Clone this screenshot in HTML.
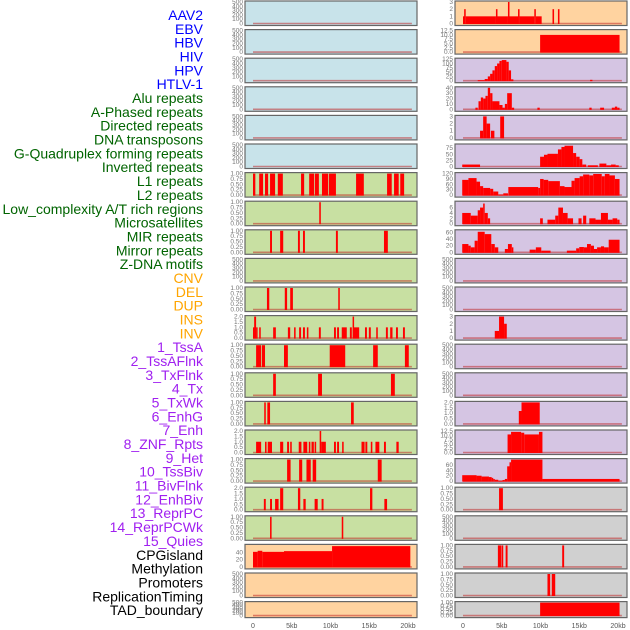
<!DOCTYPE html>
<html><head><meta charset="utf-8">
<style>
html,body{margin:0;padding:0;background:#fff;}
svg{display:block;font-family:"Liberation Sans",sans-serif;}
</style></head>
<body>
<svg id="chart" width="630" height="630" viewBox="0 0 630 630" xmlns="http://www.w3.org/2000/svg">
<g id="labels"></g>
<g id="panels"></g>
<g id="xaxes"></g>
</svg>
<script>
// ---- label data ----
const trackLabels = ["AAV2","EBV","HBV","HIV","HPV","HTLV-1","Alu repeats","A-Phased repeats","Directed repeats","DNA transposons","G-Quadruplex forming repeats","Inverted repeats","L1 repeats","L2 repeats","Low_complexity A/T rich regions","Microsatellites","MIR repeats","Mirror repeats","Z-DNA motifs","CNV","DEL","DUP","INS","INV","1_TssA","2_TssAFlnk","3_TxFlnk","4_Tx","5_TxWk","6_EnhG","7_Enh","8_ZNF_Rpts","9_Het","10_TssBiv","11_BivFlnk","12_EnhBiv","13_ReprPC","14_ReprPCWk","15_Quies","CPGisland","Methylation","Promoters","ReplicationTiming","TAD_boundary"];
const labelGroups = [6,13,5,15,5];
const labelColors = ["#0000ff","#006400","#ffa500","#a020f0","#000000"];

// ---- axis tick data ----
const xTickValues = [0,5,10,15,20];
const xTickLabels = ["0","5kb","10kb","15kb","20kb"];
const T500 = [0,100,200,300,400,500];
const T1 = [0,0.25,0.5,0.75,1];
const T2 = [0,0.5,1,1.5,2];
const T3 = [0,1,2,3];
const T12 = [0,2.5,5,7.5,10,12.5];

// ---- left column series: [startKb, endKb, value] ----
const leftL1 = [[0,0.3,1],[0.8,1.3,1],[1.55,1.95,1],[2.2,2.85,1],[3.2,3.85,1],[6.2,6.6,1],[7.25,7.9,1],[8.0,8.5,1],[8.9,9.7,1],[9.8,10.7,1],[13.3,14.3,1],[17.3,17.9,1],[18.2,18.8,1],[19.0,19.5,1]];
const leftLowCx = [[8.55,8.75,1]];
const leftMicro = [[2.2,2.45,1],[3.5,3.9,1],[5.8,6.05,1],[6.45,6.7,1],[10.7,10.95,1],[16.9,17.4,1]];
const leftDel = [[1.8,2.1,1],[4.1,4.4,1],[4.8,5.15,1],[11.0,11.2,1]];
const leftIns = [[0,0.15,1],[0.15,0.4,2],[0.4,0.5,1],[0.8,1.0,1],[2.6,2.95,1],[4.5,4.8,1],[5.3,5.5,1],[5.95,6.2,1],[6.45,6.7,1],[6.95,7.15,1],[8.5,8.75,1],[10.45,10.7,1],[10.85,11.1,1],[11.45,12.1,1],[12.5,12.75,1],[12.85,13.0,2],[13.0,13.7,1],[14.45,14.7,1],[14.95,15.2,1],[15.9,16.1,1],[17.15,17.4,1],[17.7,18.0,1],[18.45,18.7,1],[19.35,19.6,1]];
const leftTssA = [[0.4,1.05,1],[1.15,1.55,1],[4.0,4.5,1],[9.9,11.9,1],[15.5,16.1,1],[19.6,20.1,1]];
const leftTssAFlnk = [[2.6,2.95,1],[8.4,8.9,1],[17.8,18.3,1]];
const leftTxFlnk = [[1.45,1.65,1],[1.85,2.2,1],[12.65,13.0,1]];
const leftTx = [[0.4,1.05,1],[1.55,1.75,1],[1.9,2.45,1],[3.5,3.9,1],[4.4,4.65,1],[4.8,5.0,1],[5.9,6.25,1],[6.5,7.0,1],[7.2,7.4,1],[7.55,7.85,1],[7.95,8.15,1],[8.6,8.8,2],[8.8,9.4,1],[10.45,10.7,1],[10.85,11.1,1],[11.5,11.7,1],[14.0,14.4,1],[14.5,14.75,1],[15.2,15.4,1],[15.8,16.3,1],[16.9,17.15,1],[18.5,18.8,1]];
const leftTxWk = [[4.4,4.85,1],[5.95,6.35,1],[6.9,7.45,1],[7.7,8.15,1],[16.1,16.6,1]];
const leftEnhG = [[1.4,1.65,1],[2.2,2.45,1],[2.85,3.3,1],[3.5,3.9,2],[5.8,6.1,2],[6.5,6.8,1],[7.95,8.35,1],[8.85,9.1,1],[15.1,15.4,2],[16.95,17.3,1]];
const leftEnh = [[2.2,2.4,1],[11.45,11.65,1]];
const leftCpg = [[0,0.6,42],[0.6,1.2,45],[1.2,4,42],[4,10.2,44],[10.2,20.3,58]];
const emptySeries = [];

// ---- right column series ----
const rightAAV2 = [[0,0.15,1],[0.15,0.35,2],[0.35,4.25,1],[4.25,4.45,2],[4.45,5.8,1],[5.8,6.0,3],[6.0,7.1,1],[7.1,7.3,2],[7.3,9.2,1],[9.2,9.4,2],[9.4,10.15,1],[11.55,11.75,2],[12.25,12.45,2]];
const rightEBV = [[9.95,20.2,10]];
const rightHIV = [[1.9,2.8,3],[2.8,3.2,10],[3.2,3.5,25],[3.5,3.8,40],[3.8,4.1,60],[4.1,4.4,85],[4.4,4.7,100],[4.7,5.0,115],[5.0,5.6,120],[5.6,5.9,110],[5.9,6.2,60],[6.2,6.5,8],[16.4,16.7,5]];
const rightHPV = [[1.6,1.9,3],[2.0,2.3,15],[2.3,2.6,22],[2.6,2.9,20],[2.9,3.2,25],[3.2,3.5,40],[3.5,3.8,30],[3.8,4.7,15],[4.7,5.1,8],[5.1,5.4,3],[5.4,5.7,10],[5.7,6.3,30],[6.3,6.6,3],[9.6,9.9,3],[16.3,16.6,3],[17.7,18.2,3],[19.2,19.6,3],[19.6,19.9,5],[19.9,20.2,3]];
const rightDirected = [[2.2,2.6,1],[2.6,3.05,3],[3.05,3.5,2],[3.6,4.05,1],[4.8,5.3,3]];
const rightGQuad = [[-0.1,2.2,8],[9.95,10.45,40],[10.45,10.9,48],[10.9,12.25,52],[12.25,12.7,70],[12.7,13.1,80],[13.1,14.2,85],[14.2,14.6,55],[14.6,15.05,40],[15.05,15.4,30],[15.4,15.9,8],[16.1,17.4,5],[17.6,18.5,12],[18.5,19.1,5],[19.1,19.7,8],[19.7,20.1,5]];
const rightL1 = [[-0.1,0.7,85],[0.7,1.75,95],[1.75,2.2,75],[2.2,2.6,50],[2.6,3.5,40],[3.5,3.9,35],[3.9,4.55,20],[4.55,5.2,3],[5.2,5.8,10],[5.85,9.7,45],[9.7,9.95,40],[9.95,10.4,90],[10.4,11.0,85],[11.0,12.5,78],[12.5,13.1,50],[13.1,14.0,45],[14.0,14.4,80],[14.4,15.05,95],[15.05,15.5,105],[15.5,16.3,115],[16.3,16.8,110],[16.8,17.9,118],[17.9,18.3,105],[18.3,18.9,118],[18.9,19.6,110],[19.6,20.2,90]];
const rightLowCx = [[-0.1,1.0,4],[1.0,1.9,3],[1.9,2.2,5],[2.2,2.6,6],[2.6,2.8,7.5],[2.8,3.2,4],[3.2,3.5,2],[9.95,10.3,2],[10.9,11.9,1.5],[11.9,12.3,3],[12.3,12.9,6],[12.9,13.5,4],[13.5,14.2,2],[14.9,15.3,2],[15.5,15.9,3],[16.3,17.1,2],[17.1,17.8,1.5],[17.8,18.7,4],[18.7,19.3,1.5],[19.3,19.9,2],[19.9,20.2,1.5]];
const rightMicro = [[-0.1,0.7,25],[0.7,1.0,20],[1.0,1.5,15],[1.5,1.9,35],[1.9,2.8,62],[2.8,3.65,55],[3.65,4.1,25],[4.1,4.55,15],[5.4,5.8,10],[5.8,6.3,25],[6.3,6.5,15],[8.6,9.4,8],[9.4,10.1,15],[10.1,11.3,5],[13.4,14.6,5],[14.6,15.0,12],[15.0,15.6,16],[15.6,16.0,15],[16.0,16.5,25],[16.5,16.9,20],[16.9,17.3,10],[17.3,17.8,15],[17.8,18.2,18],[18.2,18.8,15],[18.8,20.2,38]];
const rightIns = [[4.1,4.65,1],[4.65,5.3,3],[5.3,5.65,2]];
const rightTxWk = [[7.2,7.55,1.2],[7.55,9.9,2]];
const rightEnhG = [[5.75,6.2,10.5],[6.2,7.5,12],[7.5,7.9,11.5],[7.9,9.8,10.5],[9.8,10.25,12]];
const rightEnh = [[-0.1,1.75,22],[1.75,2.4,20],[2.4,3.35,17],[3.35,3.7,15],[3.7,3.9,12],[3.9,4.1,8],[4.1,4.55,5],[4.55,5.1,1],[5.1,5.4,4],[5.4,5.7,8],[5.7,6.0,55],[6.0,6.2,70],[6.2,10.25,80],[10.25,20.2,8]];
const rightZnf = [[4.65,5.15,1]];
const rightBiv = [[4.5,4.95,1],[5.0,5.15,1],[5.5,5.75,1],[12.8,13.05,1]];
const rightReprPC = [[10.9,11.25,1],[11.45,11.9,1]];
const rightTad = [[9.95,20.2,1]];

// ---- panel specs (per row) ----
const leftSeries = [emptySeries,emptySeries,emptySeries,emptySeries,emptySeries,emptySeries,leftL1,leftLowCx,leftMicro,emptySeries,leftDel,leftIns,leftTssA,leftTssAFlnk,leftTxFlnk,leftTx,leftTxWk,leftEnhG,leftEnh,leftCpg,emptySeries,emptySeries];
const leftTicks = [T500,T500,T500,T500,T500,T500,T1,T1,T1,T500,T1,T2,T1,T1,T1,T2,T1,T2,T1,[0,20,40],T500,T500];
const leftMax = [500,500,500,500,500,500,1,1,1,500,1,2,1,1,1,2,1,2,1,60,500,500];
const rightSeries = [rightAAV2,rightEBV,rightHIV,rightHPV,rightDirected,rightGQuad,rightL1,rightLowCx,rightMicro,emptySeries,emptySeries,rightIns,emptySeries,emptySeries,rightTxWk,rightEnhG,rightEnh,rightZnf,emptySeries,rightBiv,rightReprPC,rightTad];
const rightTicks = [T3,T12,[0,25,50,75,100,125],[0,10,20,30,40],T3,[0,25,50,75],[0,30,60,90,120],[0,2,4,6],[0,20,40,60],T500,T500,T3,T500,T500,T2,T12,[0,20,40,60],T1,T500,T1,T1,T1];
const rightMax = [3,12.5,125,40,3,88,120,8,65,500,500,3,500,500,2,12.5,80,1,500,1,1,1];

const bgColors = {blue:"#c8e3ea",green:"#c8e0a2",orange:"#ffd3a0",purple:"#d5c5e3",gray:"#d0d0d0"};
const leftBg = ["blue","blue","blue","blue","blue","blue","green","green","green","green","green","green","green","green","green","green","green","green","green","orange","orange","orange"];
const rightBg = ["orange","orange","purple","purple","purple","purple","purple","purple","purple","purple","purple","purple","purple","purple","purple","purple","purple","gray","gray","gray","gray","gray"];

const NS = "http://www.w3.org/2000/svg";
function mk(tag, attrs, parent){ const e=document.createElementNS(NS,tag); for(const k in attrs) e.setAttribute(k,attrs[k]); parent.appendChild(e); return e; }

// labels
const lg = document.getElementById('labels');
let gi=0, cnt=0;
trackLabels.forEach((t,i)=>{
  while(cnt>=labelGroups[gi]){cnt=0;gi++;}
  cnt++;
  const el = mk('text',{x:203,y:15+i*13.84+5,'text-anchor':'end','font-size':'14',fill:labelColors[gi]},lg);
  el.textContent=t;
  
  
});

// panels
const pg = document.getElementById('panels');
const colX = [245,455];
const panelW = 172;
function xScale(col,kb){ return colX[col]+8+kb*7.75; }
function fmtTick(ticks,v){
  if(ticks===T1) return v.toFixed(2);
  if(ticks===T2||ticks===T12) return v.toFixed(1);
  return String(v);
}
for(let col=0; col<2; col++){
  const series = col===0?leftSeries:rightSeries;
  const ticksA = col===0?leftTicks:rightTicks;
  const maxA = col===0?leftMax:rightMax;
  const bgA = col===0?leftBg:rightBg;
  for(let r=0;r<22;r++){
    const top = 1+r*28.6;
    const h = r===21?16:24.5;
    const g = mk('g',{},pg);
    
    
    mk('rect',{x:colX[col],y:top,width:panelW,height:h,fill:bgColors[bgA[r]],stroke:'#666','stroke-width':1.2},g);
    const y0 = top+h-2, y1 = top+1;
    const ys = v => y0-(v/maxA[r])*(y0-y1);
    // ticks
    ticksA[r].forEach(v=>{
      const tt = mk('text',{x:colX[col]-2,y:ys(v)+2,'text-anchor':'end','font-size':'6.5',fill:'#777'},g);
      tt.textContent = fmtTick(ticksA[r],v);
      
      
    });
    // baseline track
    mk('line',{x1:xScale(col,0),x2:xScale(col,20.5),y1:y0,y2:y0,stroke:'rgba(190,30,30,0.5)','stroke-width':1.6},g);
    // bars
    series[r].forEach(s=>{
      const v = Math.min(s[2],maxA[r]);
      const b = mk('rect',{x:xScale(col,s[0]),y:ys(v),width:Math.max(1.5,(s[1]-s[0])*7.75),height:y0-ys(v)+0.5,fill:'#ff0000'},g);
      
      
    });
  }
}

// x axes
const xg = document.getElementById('xaxes');
for(let col=0;col<2;col++){
  xTickValues.forEach((v,i)=>{
    const t = mk('text',{x:xScale(col,v),y:628,'text-anchor':'middle','font-size':'7',fill:'#555'},xg);
    t.textContent = xTickLabels[i];
    
    
  });
}
</script>
</body></html>
